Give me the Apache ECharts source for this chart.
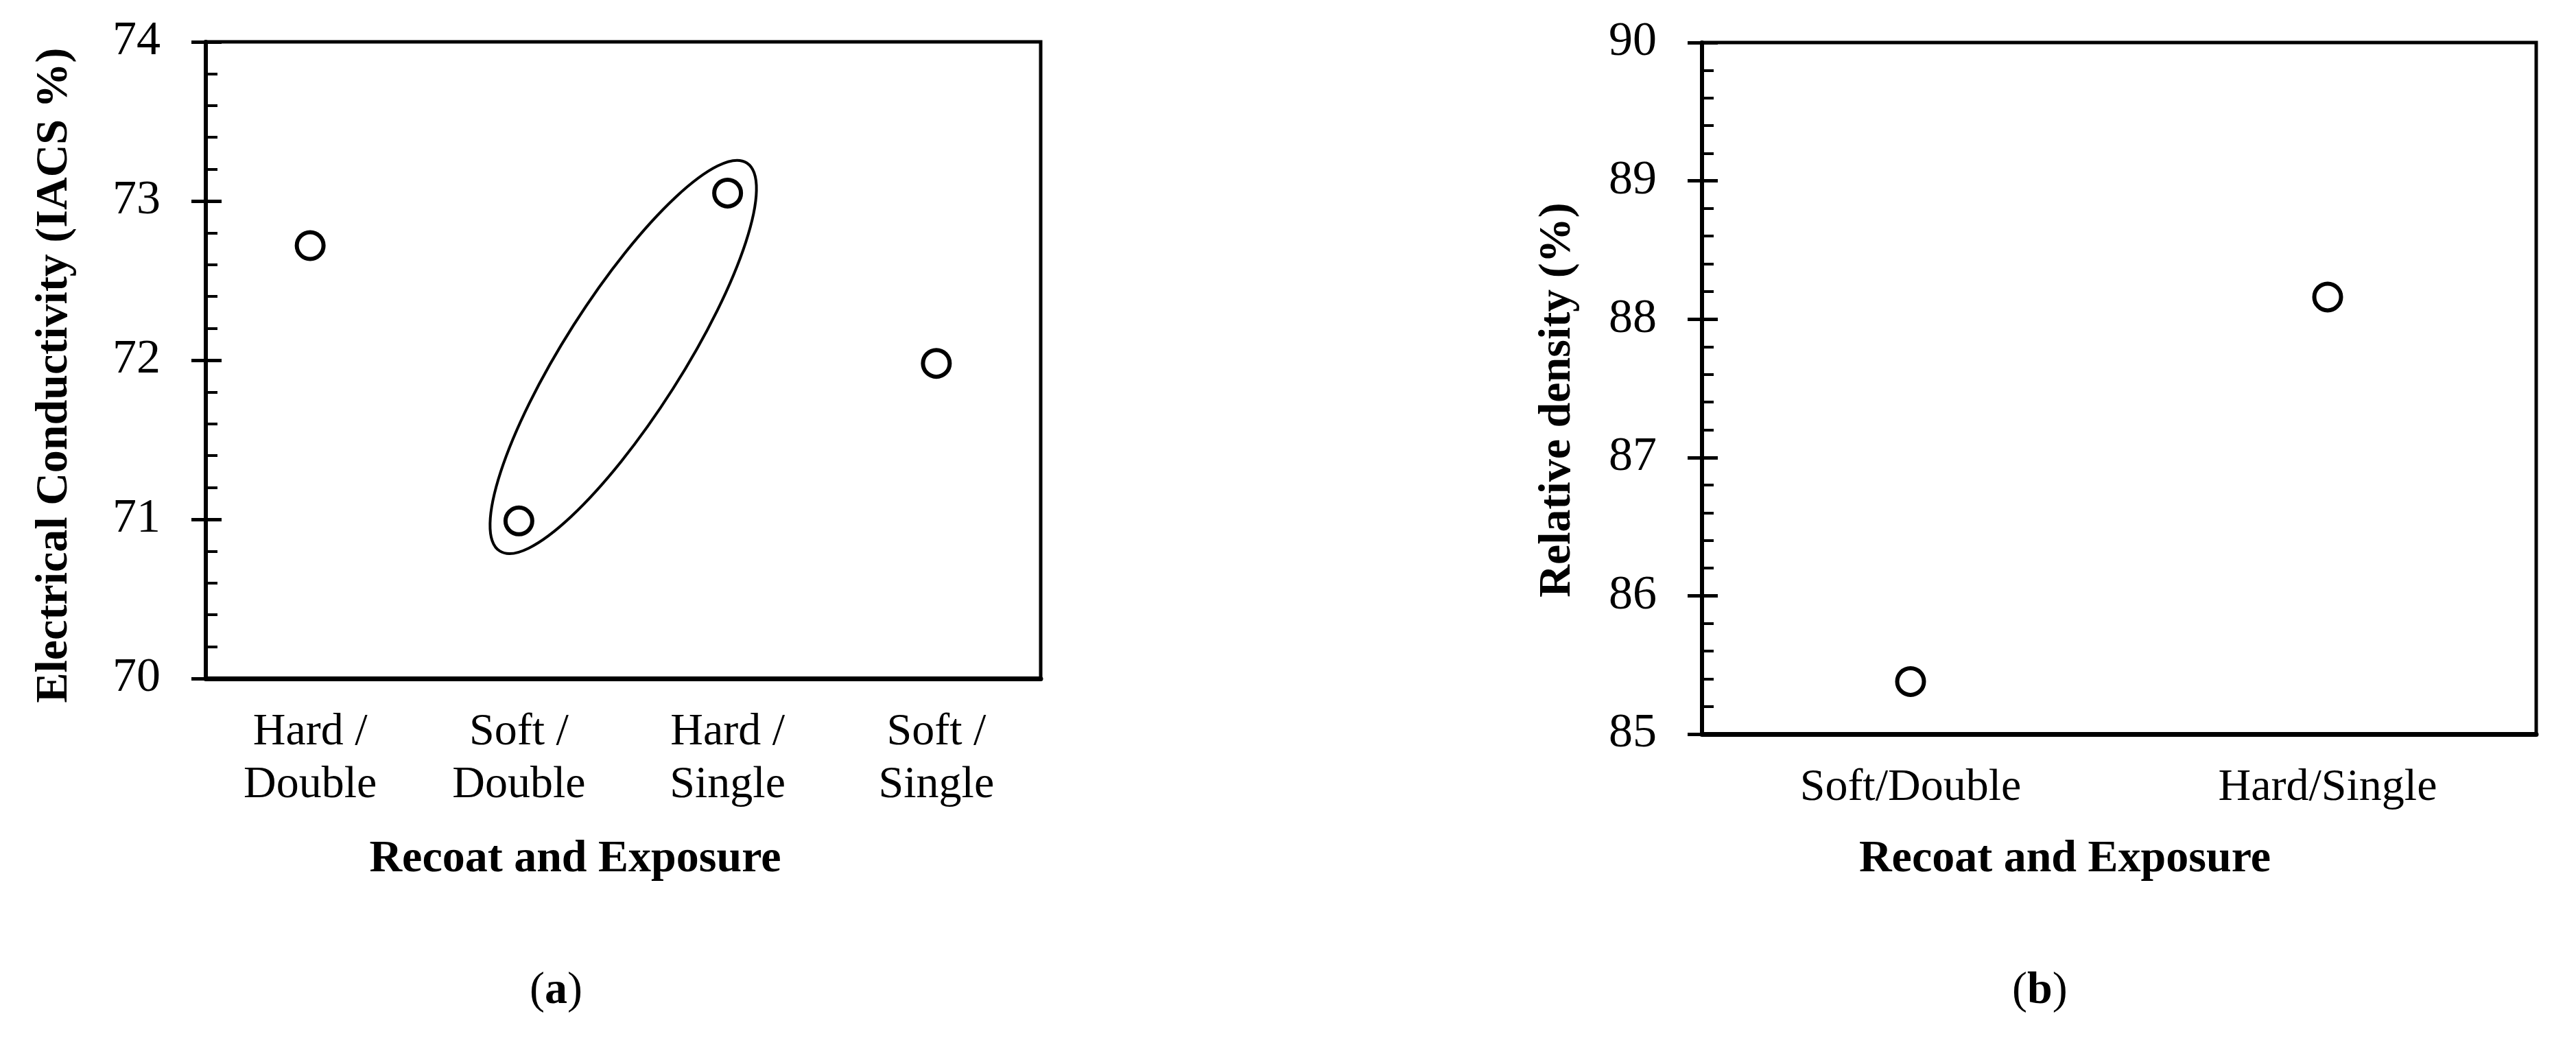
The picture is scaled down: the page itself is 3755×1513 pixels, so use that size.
<!DOCTYPE html>
<html>
<head>
<meta charset="utf-8">
<script src="https://cdn.jsdelivr.net/npm/echarts@6/dist/echarts.min.js"></script>
<style>
    html, body { margin: 0; padding: 0; background: #fff; }
    #chart { width: 3755px; height: 1513px; }
</style>
</head>
<body>
<div id="chart"></div>
<script>
    // (a) electrical conductivity
    const condCategories = ['Hard /\nDouble', 'Soft /\nDouble', 'Hard /\nSingle', 'Soft /\nSingle'];
    const condValues = [72.72, 70.99, 73.05, 71.98];
    const condTicks = [70, 71, 72, 73, 74];
    // the ellipse in (a) rounds up these two points
    const circledPoints = [1, 2];

    // (b) relative density
    const densCategories = ['Soft/Double', 'Hard/Single'];
    const densValues = [85.38, 88.16];
    const densTicks = [85, 86, 87, 88, 89, 90];

    const FONT = "'Liberation Serif', 'Times New Roman', serif";
    const BLACK = '#000';

    // three category axes per plot: boundary ticks inside + outside, centre ticks inside
    function catAxes(grid, cats, name, nameGap, shift) {
        return [
            {
                gridIndex: grid, type: 'category', data: cats, position: 'bottom',
                boundaryGap: true,
                axisLine: { onZero: false, lineStyle: { color: BLACK, width: 7 } },
                axisTick: { inside: true, length: 19, interval: 0, lineStyle: { color: BLACK, width: 5 } },
                axisLabel: { interval: 0, margin: 40, color: BLACK, fontFamily: FONT, fontSize: 66, lineHeight: 77 },
                splitLine: { show: false },
                name: name, nameLocation: 'middle', nameGap: nameGap,
                nameTextStyle: { color: BLACK, fontFamily: FONT, fontSize: 66, fontWeight: 'bold', padding: [0, shift, 0, 0] }
            },
            {
                gridIndex: grid, type: 'category', data: cats, position: 'bottom',
                axisLine: { show: false },
                axisTick: { inside: false, length: 20, interval: 0, lineStyle: { color: BLACK, width: 5 } },
                axisLabel: { show: false },
                splitLine: { show: false }
            },
            {
                gridIndex: grid, type: 'category', data: cats, position: 'bottom',
                axisLine: { show: false },
                axisTick: { inside: true, alignWithLabel: true, length: 14, interval: 0, lineStyle: { color: BLACK, width: 5 } },
                axisLabel: { show: false },
                splitLine: { show: false }
            }
        ];
    }

    // two value axes per plot: labels + inside ticks + minor ticks, then outside major ticks
    function valAxes(grid, ticks, name, nameGap, shift) {
        const lo = ticks[0], hi = ticks[ticks.length - 1];
        return [
            {
                gridIndex: grid, type: 'value', position: 'left',
                min: lo, max: hi, interval: 1,
                axisLine: { show: true, lineStyle: { color: BLACK, width: 6 } },
                axisTick: { show: true, inside: true, length: 23, lineStyle: { color: BLACK, width: 5 } },
                minorTick: { show: true, splitNumber: 5, length: 17, lineStyle: { color: BLACK, width: 4 } },
                axisLabel: { margin: 66, color: BLACK, fontFamily: FONT, fontSize: 70 },
                splitLine: { show: false },
                minorSplitLine: { show: false },
                name: name, nameLocation: 'middle', nameGap: nameGap,
                nameTextStyle: { color: BLACK, fontFamily: FONT, fontSize: 66, fontWeight: 'bold', padding: [0, shift, 0, 0] }
            },
            {
                gridIndex: grid, type: 'value', position: 'left',
                min: lo, max: hi, interval: 1,
                axisLine: { show: false },
                axisTick: { show: true, inside: false, length: 21, lineStyle: { color: BLACK, width: 5 } },
                axisLabel: { show: false },
                splitLine: { show: false }
            }
        ];
    }

    const circleStyle = { color: '#fff', borderColor: BLACK, borderWidth: 6, opacity: 1 };

    let myChart = echarts.init(document.getElementById('chart'), null, { renderer: 'canvas' });
    myChart.setOption({
        animation: false,
        backgroundColor: '#fff',
        grid: [
            { left: 300, top: 61, width: 1217, height: 928, show: true, borderColor: BLACK, borderWidth: 5, backgroundColor: 'transparent' },
            { left: 2481, top: 62, width: 1216, height: 1008, show: true, borderColor: BLACK, borderWidth: 5, backgroundColor: 'transparent' }
        ],
        xAxis: [].concat(
            catAxes(0, condCategories, 'Recoat and Exposure', 231, 140),
            catAxes(1, densCategories, 'Recoat and Exposure', 150, 158)
        ),
        yAxis: [].concat(
            valAxes(0, condTicks, 'Electrical Conductivity (IACS %)', 187, 44),
            valAxes(1, densTicks, 'Relative density (%)', 177, 34)
        ),
        series: [
            {
                type: 'scatter',
                xAxisIndex: 0, yAxisIndex: 0,
                symbol: 'circle', symbolSize: 39,
                itemStyle: circleStyle,
                data: condValues.map((v, i) => [i, v]),
                z: 5
            },
            {
                // ellipse around the Soft/Double and Hard/Single points
                type: 'custom',
                xAxisIndex: 0, yAxisIndex: 0,
                data: [[circledPoints[0], condValues[circledPoints[0]]]],
                clip: false,
                renderItem: function (params, api) {
                    const a = circledPoints[0], b = circledPoints[1];
                    const p1 = api.coord([a, condValues[a]]);
                    const p2 = api.coord([b, condValues[b]]);
                    const cx = (p1[0] + p2[0]) / 2, cy = (p1[1] + p2[1]) / 2;
                    const dx = p2[0] - p1[0], dy = p2[1] - p1[1];
                    const half = Math.sqrt(dx * dx + dy * dy) / 2;
                    return {
                        type: 'ellipse',
                        x: cx, y: cy,
                        rotation: Math.atan2(-dy, dx),
                        shape: { cx: 0, cy: 0, rx: half + 52, ry: 86 },
                        style: { fill: 'none', stroke: BLACK, lineWidth: 4 }
                    };
                },
                z: 4
            },
            {
                type: 'scatter',
                xAxisIndex: 3, yAxisIndex: 2,
                symbol: 'circle', symbolSize: 39,
                itemStyle: circleStyle,
                data: densValues.map((v, i) => [i, v]),
                z: 5
            }
        ],
        graphic: [
            {
                type: 'text', left: 772, top: 1412,
                style: {
                    text: '({b|a})', fontFamily: FONT, fontSize: 66, fill: BLACK,
                    rich: { b: { fontFamily: FONT, fontSize: 66, fontWeight: 'bold', fill: BLACK } }
                }
            },
            {
                type: 'text', left: 2933, top: 1412,
                style: {
                    text: '({b|b})', fontFamily: FONT, fontSize: 66, fill: BLACK,
                    rich: { b: { fontFamily: FONT, fontSize: 66, fontWeight: 'bold', fill: BLACK } }
                }
            }
        ]
    });
</script>
</body>
</html>
